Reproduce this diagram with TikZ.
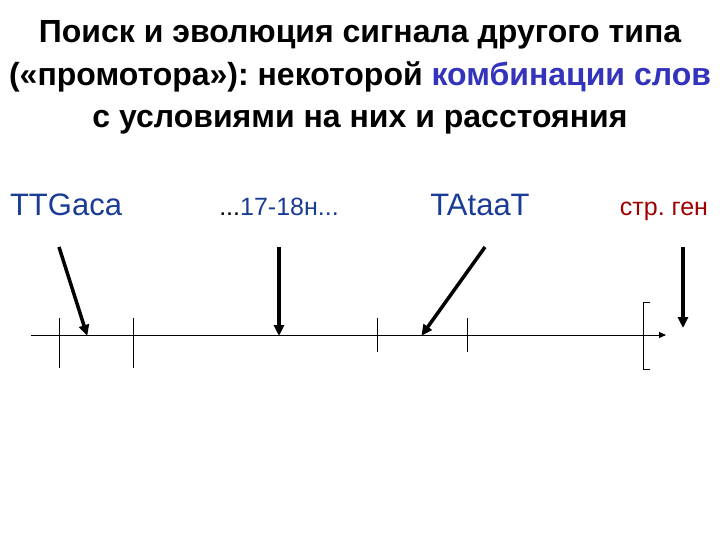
\documentclass[tikz,border=0pt]{standalone}
\usepackage{fontspec}
\setmainfont{Liberation Sans}
\usetikzlibrary{arrows.meta}
\definecolor{wordblue}{HTML}{3333BB}
\definecolor{labblue}{HTML}{1A3C96}
\definecolor{genred}{HTML}{A00000}
\frenchspacing
\begin{document}
\begin{tikzpicture}[x=1pt,y=-1pt,
  titletext/.style={font=\fontsize{32}{38}\selectfont\bfseries, anchor=base, inner sep=0pt},
  bigtag/.style={font=\fontsize{31}{37}\selectfont, text=labblue, anchor=base, inner sep=0pt},
  smalltag/.style={font=\fontsize{25}{30}\selectfont, anchor=base, inner sep=0pt},
  pointer/.style={line width=3.5pt, -{Triangle[length=11pt,width=10pt]}, shorten >=-1pt},
  axisline/.style={line width=1pt, -{Triangle[length=7pt,width=6pt]}},
  tick/.style={line width=0.9pt}]
\useasboundingbox (0,0) rectangle (720,540);
% title
\node[titletext] (t1) at (360,43) {Поиск и эволюция сигнала другого типа};
\node[titletext] (t2) at (360,86) {(«промотора»): некоторой \textcolor{wordblue}{комбинации слов}};
\node[titletext] (t3) at (360,128) {с условиями на них и расстояния};
% labels
\node[bigtag] (l1) at (66,215) {TTGaca};
\node[smalltag] (l2) at (279,215) {...\textcolor{labblue}{17-18н...}};
\node[bigtag] (l3) at (480,215) {TAtaaT};
\node[smalltag, text=genred] (l4) at (664,215) {стр. ген};
% axis
\coordinate (ax0) at (31,335);
\coordinate (ax1) at (666,335);
\draw[axisline] (ax0) -- (ax1);
% ticks
\coordinate (k1a) at (59,318); \coordinate (k1b) at (59,368);
\coordinate (k2a) at (133,318); \coordinate (k2b) at (133,368);
\coordinate (k3a) at (377,318); \coordinate (k3b) at (377,352);
\coordinate (k4a) at (467,318); \coordinate (k4b) at (467,352);
\draw[tick] (k1a) -- (k1b);
\draw[tick] (k2a) -- (k2b);
\draw[tick] (k3a) -- (k3b);
\draw[tick] (k4a) -- (k4b);
% bracket
\coordinate (b1) at (650,302); \coordinate (b2) at (643,302);
\coordinate (b3) at (643,369); \coordinate (b4) at (650,369);
\draw[tick] (b1) -- (b2) -- (b3) -- (b4);
% pointers
\coordinate (p1s) at (59,247); \coordinate (p1e) at (87,335);
\coordinate (p2s) at (279,247); \coordinate (p2e) at (279,335);
\coordinate (p3s) at (485,247); \coordinate (p3e) at (422,335);
\coordinate (p4s) at (683,247); \coordinate (p4e) at (683,327);
\draw[pointer] (p1s) -- (p1e);
\draw[pointer] (p2s) -- (p2e);
\draw[pointer] (p3s) -- (p3e);
\draw[pointer] (p4s) -- (p4e);
\end{tikzpicture}
\end{document}
